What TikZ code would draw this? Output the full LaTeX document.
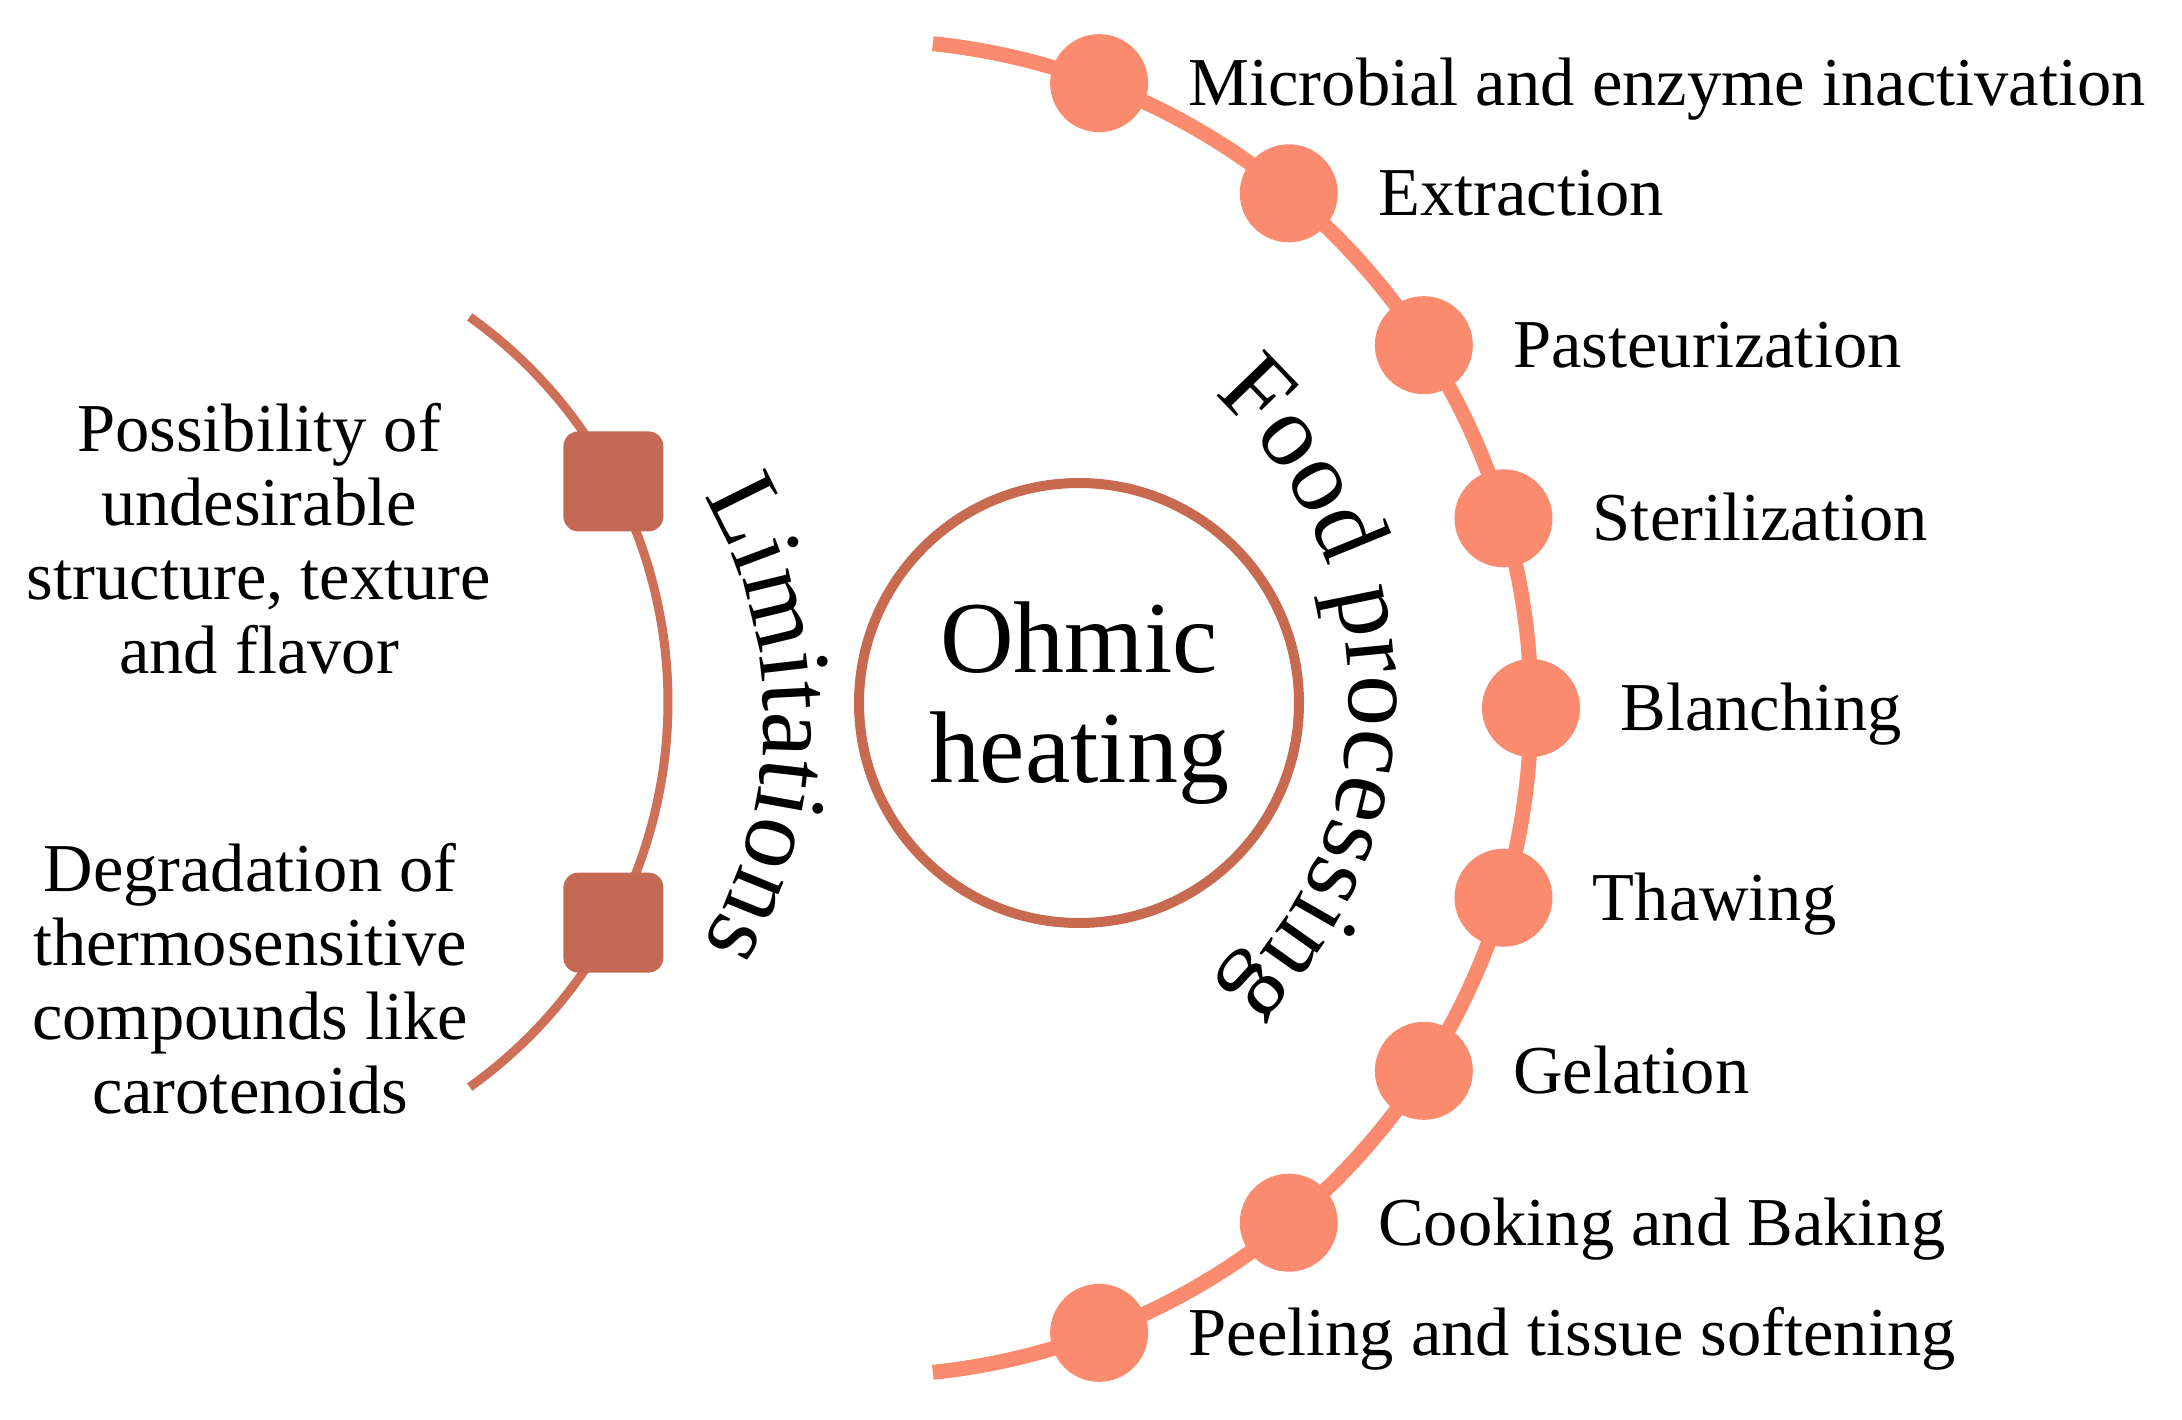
\documentclass[tikz,border=0pt]{standalone}
\usepackage{fontspec}
\setmainfont{Liberation Serif}
\usepackage{tikz}
\usetikzlibrary{positioning,decorations.text}
\definecolor{salmon}{HTML}{FB8B6F}
\definecolor{copper}{HTML}{C86A50}
\definecolor{brick}{HTML}{C46953}
\definecolor{clay}{HTML}{CE6F58}
\newcommand{\itemsize}{\fontsize{19.5}{21}\selectfont}
\newcommand{\hubsize}{\fontsize{29}{31.3}\selectfont}

\begin{document}
\begin{tikzpicture}[
 dot/.style={circle,fill=salmon,minimum size=9.8mm,inner sep=0pt},
 tile/.style={rectangle,rounded corners=1.5mm,fill=brick,minimum size=10mm,inner sep=0pt},
 item/.style={font=\itemsize,inner sep=0pt,text height=12.9pt,text depth=0pt},
 note/.style={font=\itemsize,align=center,inner sep=0pt,anchor=north},
 hub/.style={circle,draw=copper,line width=1mm,minimum size=44mm,align=center,font=\hubsize,inner sep=0pt},
 procline/.style={draw=salmon,line width=1.5mm},
 limline/.style={draw=clay,line width=0.9mm}
]
\useasboundingbox (0,0) rectangle (21.82,14.19);

\node[hub] (hub) at (10.79,7.16) {Ohmic\\heating};

% limitations side
\begin{scope}[shift={(1.95,7.17)}]
\draw[limline] (54.5:4.73) arc[start angle=54.5,end angle=-54.5,radius=4.73];
\node[tile] (lim1) at (27.8:4.73) {};
\node[tile] (lim2) at (-27.8:4.73) {};
\end{scope}
\path[decorate,decoration={text along path,text align=center,text={|\hubsize|Limitations}}]
 (3.22,6.99) ++(40:4.42) arc[start angle=40,end angle=-40,radius=4.42];
\node[note] (n1) at (2.59,10.16) {Possibility of\\undesirable\\structure, texture\\and flavor};
\node[note] (n2) at (2.50,5.76) {Degradation of\\thermosensitive\\compounds like\\carotenoids};

% food processing side
\begin{scope}[shift={(8.63,7.11)}]
\draw[procline] (84:6.68) arc[start angle=84,end angle=-84,radius=6.68];
\node[dot] (p1) at (69.3:6.68) {};
\node[dot] (p2) at (50.4:6.68) {};
\node[dot] (p3) at (32.9:6.68) {};
\node[dot] (p4) at (16.5:6.68) {};
\node[dot] (p5) at (0:6.68) {};
\node[dot] (p6) at (-16.5:6.68) {};
\node[dot] (p7) at (-32.9:6.68) {};
\node[dot] (p8) at (-50.4:6.68) {};
\node[dot] (p9) at (-69.3:6.68) {};
\end{scope}
\path[decorate,decoration={text along path,text align=center,text={|\hubsize|Food processing}}]
 (9.40,7.21) ++(56:4.09) arc[start angle=56,end angle=-54,radius=4.09];

\node[item,right=3.9mm of p1] (t1) {Microbial and enzyme inactivation};
\node[item,right=3.9mm of p2] (t2) {Extraction};
\node[item,right=3.9mm of p3] (t3) {Pasteurization};
\node[item,right=3.9mm of p4] (t4) {Sterilization};
\node[item,right=3.9mm of p5] (t5) {Blanching};
\node[item,right=3.9mm of p6] (t6) {Thawing};
\node[item,right=3.9mm of p7] (t7) {Gelation};
\node[item,right=3.9mm of p8] (t8) {Cooking and Baking};
\node[item,right=3.9mm of p9] (t9) {Peeling and tissue softening};
\end{tikzpicture}
\end{document}
